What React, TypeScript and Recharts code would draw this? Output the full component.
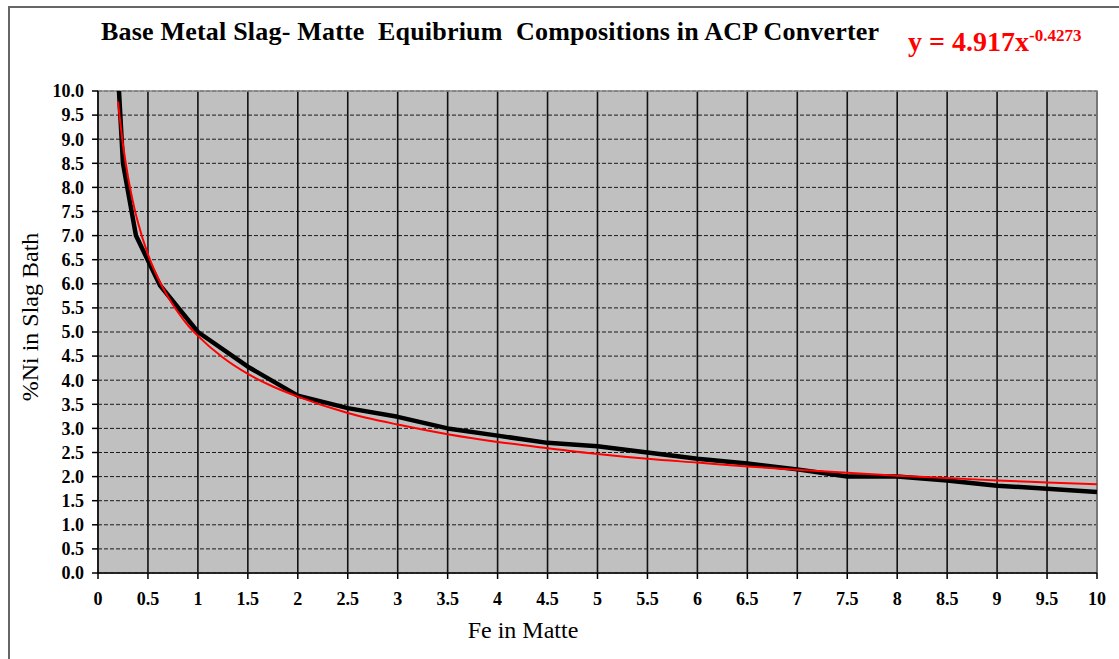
import React from 'react';
import { LineChart, Line, XAxis, YAxis, CartesianGrid, ReferenceArea, Label } from 'recharts';

// Measured slag-matte equilibrium (black curve)
const measuredFe = [0.21, 0.25, 0.38, 0.62, 1.0, 1.5, 2.0, 2.5, 3.0, 3.5, 4.0, 4.5, 5.0, 5.5, 6.0, 6.5, 7.0, 7.5, 8.0, 8.5, 9.0, 9.5, 10.0];
const measuredNi = [10.0, 8.5, 7.0, 5.97, 5.0, 4.28, 3.68, 3.42, 3.24, 3.0, 2.85, 2.7, 2.63, 2.5, 2.37, 2.27, 2.15, 2.0, 2.0, 1.92, 1.81, 1.75, 1.68];

// Power trendline (red curve)
const trendFe = [0.2, 0.25, 0.3, 0.35, 0.4, 0.5, 0.6, 0.7, 0.8, 0.9, 1, 1.25, 1.5, 1.75, 2, 2.5, 3, 3.5, 4, 4.5, 5, 5.5, 6, 6.5, 7, 7.5, 8, 8.5, 9, 9.5, 10];
const trendNi = [9.78, 8.89, 8.22, 7.7, 7.27, 6.61, 6.12, 5.73, 5.41, 5.14, 4.92, 4.47, 4.13, 3.87, 3.66, 3.32, 3.08, 2.88, 2.72, 2.59, 2.47, 2.37, 2.29, 2.21, 2.14, 2.08, 2.02, 1.97, 1.92, 1.88, 1.84];

const feTicks = [0, 0.5, 1, 1.5, 2, 2.5, 3, 3.5, 4, 4.5, 5, 5.5, 6, 6.5, 7, 7.5, 8, 8.5, 9, 9.5, 10];
const niTicks = [0, 0.5, 1, 1.5, 2, 2.5, 3, 3.5, 4, 4.5, 5, 5.5, 6, 6.5, 7, 7.5, 8, 8.5, 9, 9.5, 10];

const minorTicks: number[] = [];
for (let i = 0; i <= 400; i++) minorTicks.push(i * 0.025);

const titleText = 'Base Metal Slag- Matte  Equibrium  Compositions in ACP Converter';
const eqMain = 'y = 4.917x';
const eqExp = '-0.4273';
const xLabel = 'Fe in Matte';
const yLabel = '%Ni in Slag Bath';

const measured = measuredFe.map((fe, i) => ({ fe, ni: measuredNi[i] }));
const trend = trendFe.map((fe, i) => ({ fe, ni: trendNi[i] }));

const serif = '"Liberation Serif", "Times New Roman", serif';
const tickStyle = { fontFamily: serif, fontWeight: 700, fontSize: 18, fill: '#000' };

export default function App() {
  return (
    <div style={{ position: 'absolute', left: 0, top: 0, width: 1119, height: 659, background: '#fff', overflow: 'hidden' }}>
      <div style={{ position: 'absolute', left: 8, top: 6, width: 1111, height: 653, borderLeft: '2px solid #666', borderTop: '2px solid #666', boxSizing: 'border-box' }} />
      <div style={{ position: 'absolute', left: 0, top: 0 }}>
        <LineChart width={1119} height={659} margin={{ top: 91, right: 22, bottom: 56, left: 0 }}>
          <CartesianGrid fill="#C0C0C0" horizontal={false} stroke="#111" strokeWidth={1.6} />
          <CartesianGrid vertical={false} stroke="#1a1a1a" strokeDasharray="4 2" strokeWidth={1} />
          <ReferenceArea x1={0} x2={10} y1={0} y2={10} fill="none" stroke="#8a8a8a" strokeWidth={1.5} />
          <XAxis
            xAxisId="minor"
            type="number"
            dataKey="fe"
            domain={[0, 10]}
            ticks={minorTicks}
            interval={0}
            tick={false}
            tickSize={5}
            axisLine={false}
            tickLine={{ stroke: '#000', strokeWidth: 1 }}
            height={0}
            allowDataOverflow
          />
          <XAxis
            type="number"
            dataKey="fe"
            domain={[0, 10]}
            ticks={feTicks}
            interval={0}
            tickFormatter={(v: number) => String(v)}
            tick={tickStyle}
            tickSize={6}
            tickMargin={13}
            axisLine={{ stroke: '#000', strokeWidth: 1.5 }}
            tickLine={{ stroke: '#000', strokeWidth: 1.5 }}
            height={30}
            allowDataOverflow
          >
            <Label
              content={() => (
                <text x={523} y={638} textAnchor="middle" style={{ fontFamily: serif, fontSize: 24, fill: '#000' }}>
                  {xLabel}
                </text>
              )}
            />
          </XAxis>
          <YAxis
            type="number"
            domain={[0, 10]}
            ticks={niTicks}
            interval={0}
            tickFormatter={(v: number) => v.toFixed(1)}
            tick={tickStyle}
            tickSize={6}
            tickMargin={8}
            width={98}
            axisLine={{ stroke: '#000', strokeWidth: 1.5 }}
            tickLine={{ stroke: '#000', strokeWidth: 1.5 }}
            allowDataOverflow
          >
            <Label
              content={() => (
                <text x={30} y={317} transform="rotate(-90 30 317)" textAnchor="middle" dominantBaseline="central" style={{ fontFamily: serif, fontSize: 24, fill: '#000' }}>
                  {yLabel}
                </text>
              )}
            />
          </YAxis>
          <Line data={measured} dataKey="ni" type="linear" stroke="#000" strokeWidth={4.5} strokeLinejoin="round" dot={false} activeDot={false} isAnimationActive={false} />
          <Line data={trend} dataKey="ni" type="monotone" stroke="#ff0000" strokeWidth={2} dot={false} activeDot={false} isAnimationActive={false} />
        </LineChart>
      </div>
      <div style={{ position: 'absolute', left: 101, top: 19, fontFamily: serif, fontWeight: 700, fontSize: 26, lineHeight: '26px', letterSpacing: '0.2px', whiteSpace: 'pre', color: '#000' }}>
        {titleText}
      </div>
      <div style={{ position: 'absolute', left: 908, top: 22, fontFamily: serif, fontWeight: 700, fontSize: 28, lineHeight: '28px', whiteSpace: 'pre', color: '#ff0000' }}>
        {eqMain}
        <span style={{ fontSize: 17, verticalAlign: '10px' }}>{eqExp}</span>
      </div>
    </div>
  );
}
